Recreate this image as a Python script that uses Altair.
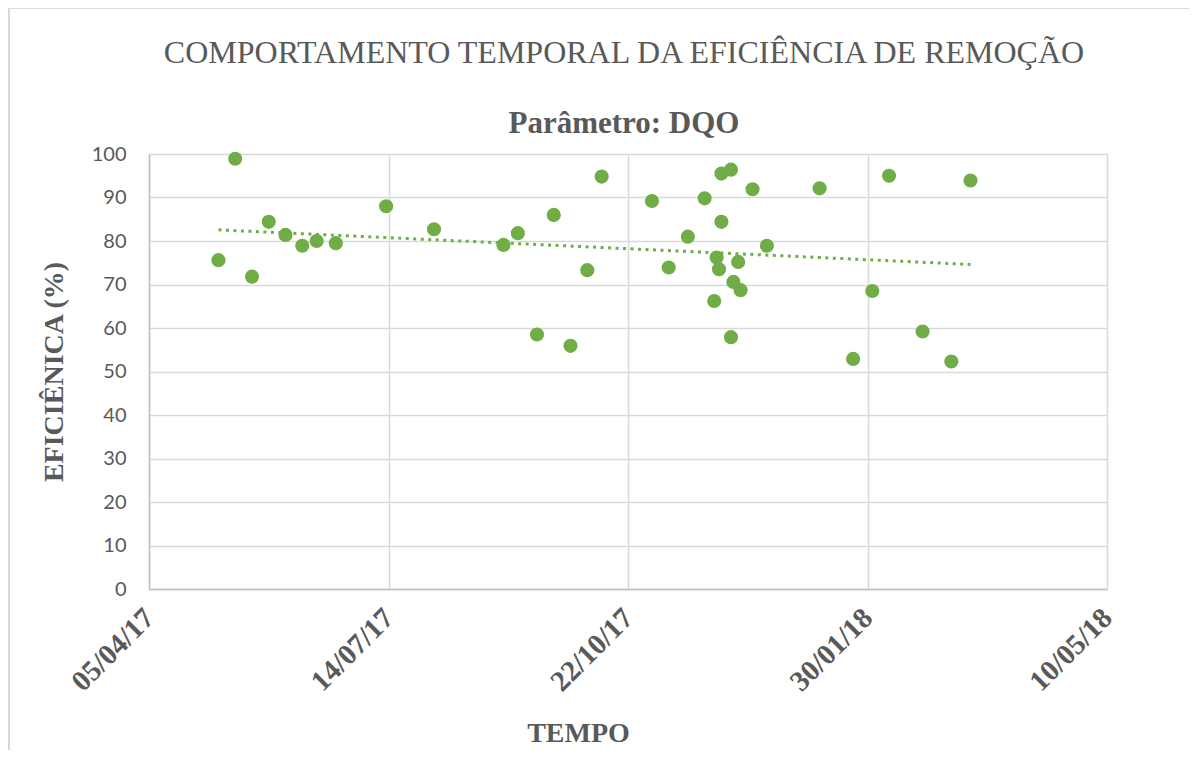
import altair as alt
import pandas as pd

start_date = "2017-04-05"
dates = [
    "2017-05-04", "2017-05-11", "2017-05-18", "2017-05-25", "2017-06-01",
    "2017-06-08", "2017-06-14", "2017-06-22", "2017-07-13", "2017-08-02",
    "2017-08-31", "2017-09-06", "2017-09-14", "2017-09-21", "2017-09-28",
    "2017-10-05", "2017-10-11", "2017-11-01", "2017-11-08", "2017-11-16",
    "2017-11-23", "2017-11-27", "2017-11-28", "2017-11-29", "2017-11-30",
    "2017-11-30", "2017-12-04", "2017-12-04", "2017-12-05", "2017-12-07",
    "2017-12-08", "2017-12-13", "2017-12-19", "2018-01-10", "2018-01-24",
    "2018-02-01", "2018-02-08", "2018-02-22", "2018-03-06", "2018-03-14",
]
eficiencia = [
    75.6, 98.9, 71.8, 84.4, 81.4,
    78.9, 80.0, 79.5, 88.0, 82.7,
    79.1, 81.8, 58.5, 86.0, 55.9,
    73.3, 94.8, 89.2, 73.9, 81.0,
    89.8, 66.2, 76.2, 73.5, 84.4,
    95.5, 96.4, 57.9, 70.6, 75.2,
    68.7, 91.9, 78.9, 92.1, 52.9,
    68.5, 95.0, 59.2, 52.3, 93.9,
]
x_ticks = [0, 100, 200, 300, 400]
y_ticks = [0, 10, 20, 30, 40, 50, 60, 70, 80, 90, 100]

df = pd.DataFrame({"data": dates, "eficiencia": eficiencia})
df["dia"] = (pd.to_datetime(df["data"]) - pd.Timestamp(start_date)).dt.days

green = "#70ad47"
gray_text = "#595959"

x_enc = alt.X(
    "dia:Q",
    scale=alt.Scale(domain=[0, 400], nice=False, zero=False),
    axis=alt.Axis(
        values=x_ticks,
        labelExpr="utcFormat(utc(2017,3,5) + datum.value*86400000, '%d/%m/%y')",
        labelAngle=-45,
        labelAlign="right",
        labelBaseline="middle",
        labelFont="Liberation Serif",
        labelFontWeight="bold",
        labelFontSize=29,
        labelColor=gray_text,
        labelPadding=24,
        labelOverlap=False,
        ticks=False,
        grid=True,
        gridColor="#d9d9d9",
        gridWidth=1.5,
        domainColor="#bfbfbf",
        domainWidth=1.5,
        title="TEMPO",
        titleFont="Liberation Serif",
        titleFontSize=28,
        titleFontWeight="bold",
        titleColor=gray_text,
        titleX=429,
        titleY=152,
        titleAlign="center",
        titleBaseline="alphabetic",
    ),
)
y_enc = alt.Y(
    "eficiencia:Q",
    scale=alt.Scale(domain=[0, 100], nice=False),
    axis=alt.Axis(
        values=y_ticks,
        labelFont="Lato",
        labelFontSize=20,
        labelColor=gray_text,
        labelPadding=23,
        ticks=False,
        grid=True,
        gridColor="#d9d9d9",
        gridWidth=1.5,
        domainColor="#bfbfbf",
        domainWidth=1.5,
        title="EFICIÊNICA (%)",
        titleFont="Liberation Serif",
        titleFontSize=28,
        titleFontWeight="bold",
        titleColor=gray_text,
        titlePadding=23,
    ),
)

frame = (
    alt.Chart(pd.DataFrame({"k": [0]}))
    .mark_rect(fill=None, stroke="#d9d9d9", strokeWidth=2)
    .encode(
        x=alt.value(-140),
        x2=alt.value(1200),
        y=alt.value(-146),
        y2=alt.value(700),
    )
)
points = alt.Chart(df).mark_circle(size=200, opacity=1, color=green).encode(
    x=x_enc, y=y_enc
)
trend = (
    alt.Chart(df)
    .transform_regression("dia", "eficiencia", method="linear")
    .mark_line(color=green, strokeWidth=3, strokeDash=[3, 4.5])
    .encode(x="dia:Q", y="eficiencia:Q")
)

chart = (
    alt.layer(frame, trend, points)
    .properties(
        width=958,
        height=435,
        autosize=alt.AutoSizeParams(type="none"),
        padding={"left": 141, "top": 146, "right": 82, "bottom": 161},
        title=alt.TitleParams(
            text="COMPORTAMENTO TEMPORAL DA EFICIÊNCIA DE REMOÇÃO",
            subtitle="Parâmetro: DQO",
            font="Liberation Serif",
            fontSize=32,
            fontWeight="normal",
            color=gray_text,
            subtitleFont="Liberation Serif",
            subtitleFontSize=31,
            subtitleFontWeight="bold",
            subtitleColor=gray_text,
            subtitlePadding=39,
            anchor="middle",
            frame="group",
            dx=-4,
            offset=-133,
        ),
    )
    .configure_view(stroke=None)
    .configure(background="white")
)

chart.save("out.html", embed_options={"renderer": "svg", "actions": False})
